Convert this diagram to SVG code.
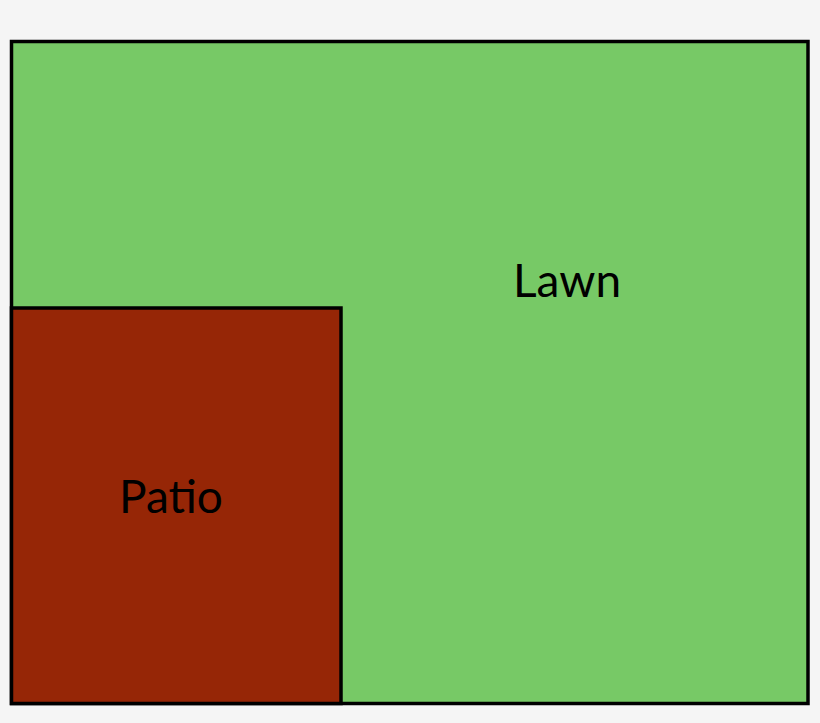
<svg xmlns="http://www.w3.org/2000/svg" width="820" height="723" viewBox="0 0 820 723">
<style>
.area{stroke:#000;stroke-width:3.5}
.lbl{font-family:Lato,"Open Sans",sans-serif;font-size:46px;fill:#000;text-anchor:middle}
</style>
<rect width="820" height="723" fill="#f5f5f5"/>
<g id="lawn">
<rect class="area" x="11.5" y="41.5" width="796.5" height="662" fill="#77c966"/>
<text class="lbl" x="567" y="297">Lawn</text>
</g>
<g id="patio">
<rect class="area" x="11.5" y="308" width="329.5" height="395.5" fill="#962606"/>
<text class="lbl" x="171" y="513">Patio</text>
</g>
</svg>
